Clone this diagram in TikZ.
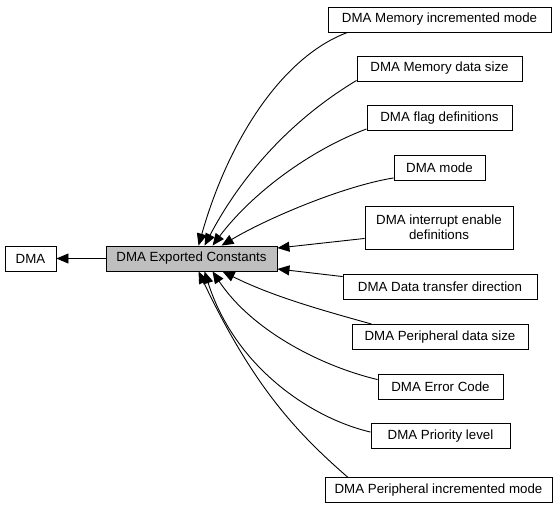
\documentclass[tikz,border=0pt]{standalone}
\usepackage{fontspec}
\setmainfont{Liberation Sans}
\usetikzlibrary{arrows.meta}
\begin{document}
\begin{tikzpicture}[
    x=1pt, y=-1pt,
    box/.style={draw, line width=0.9pt, minimum height=25pt, inner sep=0pt, font=\fontsize{13.3}{15}\selectfont, align=center},
    edge/.style={draw, line width=0.9pt, -{Triangle[length=12pt, width=10pt]}}
]
    \useasboundingbox (0,0) rectangle (556,509);

    % Gruppen
    \node[box, minimum width=51pt] (dma) at (30.5, 258.5) {DMA};
    \node[box, fill=black!25, minimum width=171pt] (dec) at (191.5, 258.5) {DMA Exported Constants};

    % Untergruppen
    \node[box, minimum width=223pt] (mim) at (439.5, 19.5) {DMA Memory incremented mode};
    \node[box, minimum width=165pt] (mds) at (439.5, 68.5) {DMA Memory data size};
    \node[box, minimum width=145pt] (flag) at (439.5, 118) {DMA flag definitions};
    \node[box, minimum width=91pt] (mode) at (439.5, 168) {DMA mode};
    \node[box, minimum width=148pt, minimum height=43pt] (int) at (439, 227.5) {DMA interrupt enable\\definitions};
    \node[box, minimum width=194pt] (dtd) at (440, 286.5) {DMA Data transfer direction};
    \node[box, minimum width=176pt] (pds) at (440, 337) {DMA Peripheral data size};
    \node[box, minimum width=125pt] (err) at (440.5, 386.5) {DMA Error Code};
    \node[box, minimum width=139pt] (pri) at (440.5, 436) {DMA Priority level};
    \node[box, minimum width=227pt] (pim) at (438.5, 490) {DMA Peripheral incremented mode};

    % Verbindungen
    \draw[edge] (dec) -- (dma);
    \draw[edge] ([xshift=20pt]mim.south west) .. controls +(-65,24) and +(30,-106) .. ([xshift=93pt]dec.north west);
    \draw[edge] ([yshift=1pt]mds.south west) .. controls +(-60,36) and +(40,-76) .. ([xshift=99pt]dec.north west);
    \draw[edge] ([yshift=2pt]flag.south west) .. controls +(-56,21) and +(40,-53) .. ([xshift=107pt]dec.north west);
    \draw[edge] ([yshift=3pt]mode.south west) .. controls +(-50,8) and +(45,-27) .. ([xshift=116pt]dec.north west);
    \draw[edge] ([yshift=11pt]int.south west) -- ([yshift=-2.5pt]dec.north east);
    \draw[edge] ([yshift=-3pt]dtd.north west) -- ([yshift=2.5pt]dec.south east);
    \draw[edge] ([xshift=20pt]pds.north west) .. controls +(-50,-14) and +(50,25) .. ([xshift=117pt]dec.south west);
    \draw[edge] ([yshift=-6pt]err.north west) .. controls +(-55,-13) and +(40,60) .. ([xshift=107pt]dec.south west);
    \draw[edge] ([yshift=-9pt]pri.north west) .. controls +(-60,-14) and +(30,95) .. ([xshift=99pt]dec.south west);
    \draw[edge] ([xshift=23pt]pim.north west) .. controls +(-48,-42) and +(56,118) .. ([xshift=93pt]dec.south west);
\end{tikzpicture}
\end{document}
